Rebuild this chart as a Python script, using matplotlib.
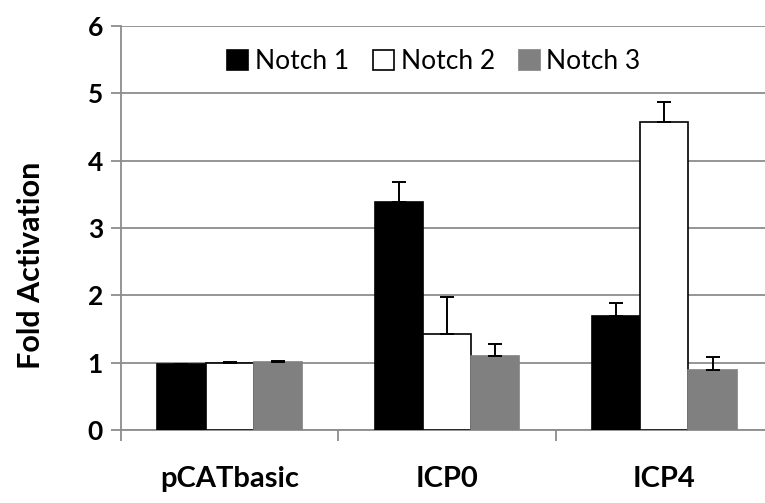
import matplotlib.pyplot as plt
import numpy as np

categories = ['pCATbasic', 'ICP0', 'ICP4']
series = ['Notch 1', 'Notch 2', 'Notch 3']
notch1 = [0.98, 3.38, 1.70]
notch2 = [1.00, 1.42, 4.57]
notch3 = [1.01, 1.10, 0.89]
notch1_err = [0.005, 0.31, 0.18]
notch2_err = [0.01, 0.56, 0.30]
notch3_err = [0.01, 0.18, 0.19]

plt.rcParams['font.family'] = ['Lato', 'DejaVu Sans']

fig = plt.figure(figsize=(7.65, 5.03), dpi=100)
ax = fig.add_axes([121 / 765, 73 / 503, 652 / 765, 404 / 503])

x = np.arange(len(categories))
w = 0.222
vals = [notch1, notch2, notch3]
errs = [notch1_err, notch2_err, notch3_err]
faces = ['black', 'white', '#808080']
edges = ['black', 'black', '#808080']
for i in range(3):
    ax.bar(x + (i - 1) * w, vals[i], w, color=faces[i], edgecolor=edges[i],
           linewidth=1.2, label=series[i], zorder=3)
    ax.errorbar(x + (i - 1) * w, vals[i], yerr=[np.zeros(3), errs[i]], fmt='none',
                ecolor='black', elinewidth=1.4, capsize=5, capthick=1.4, zorder=4)

ax.set_xlim(-0.5, 2.5)
ax.set_ylim(0, 6)
ax.set_yticks(range(7))
ax.grid(axis='y', color='#8c8c8c', linewidth=1.3, zorder=0)
ax.set_axisbelow(True)

for s in ['top', 'right']:
    ax.spines[s].set_visible(False)
ax.spines['left'].set_color('#8c8c8c')
ax.spines['bottom'].set_color('#8c8c8c')
ax.spines['left'].set_linewidth(1.3)
ax.spines['bottom'].set_linewidth(1.3)

ax.set_xticks(x)
ax.set_xticklabels(categories, fontsize=21, fontweight='bold')
ax.tick_params(axis='x', length=0, pad=26)
ax.set_xticks([-0.5, 0.5, 1.5], minor=True)
ax.tick_params(axis='x', which='minor', length=8, color='#8c8c8c', width=1.3)
ax.tick_params(axis='y', labelsize=19, length=7, color='#8c8c8c', width=1.3, pad=6)
for t in ax.get_yticklabels():
    t.set_fontweight('bold')

ax.set_ylabel('Fold Activation', fontsize=22, fontweight='bold')
ax.yaxis.set_label_coords(-0.117, 0.408)

ax.legend(loc='center', bbox_to_anchor=(0.48, 0.912), ncol=3, frameon=False,
          fontsize=19, handlelength=0.8, handleheight=0.8, handletextpad=0.25,
          columnspacing=0.9)

fig.savefig('out.png', dpi=100)
